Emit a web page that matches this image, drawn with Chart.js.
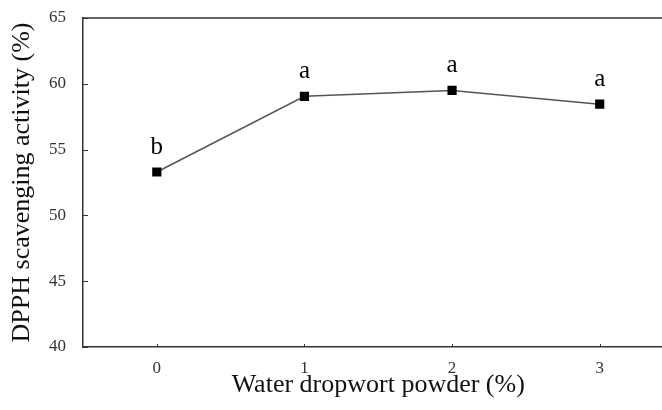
<!DOCTYPE html>
<html>
<head>
<meta charset="utf-8">
<script src="https://cdn.jsdelivr.net/npm/chart.js@4"></script>
<style>
html,body{margin:0;padding:0;background:#fff;overflow:hidden;width:662px;height:410px;}
#wrap{width:680px;height:410px;}
</style>
</head>
<body>
<div id="wrap"><canvas id="c" width="680" height="410"></canvas></div>
<script>
const categories = ['0', '1', '2', '3'];
const dpphValues = [53.3, 59.05, 59.5, 58.45];
const letters = ['b', 'a', 'a', 'a'];
const yTicks = [40, 45, 50, 55, 60, 65];

const serif = "'Liberation Serif', 'Times New Roman', serif";

const decor = {
  id: 'decor',
  afterDraw(chart) {
    const ctx = chart.ctx;
    const a = chart.chartArea;
    const xs = chart.scales.x, ys = chart.scales.y;
    ctx.save();
    ctx.strokeStyle = '#333';
    ctx.lineWidth = 1.5;
    ctx.beginPath();
    ctx.moveTo(a.left, a.top);
    ctx.lineTo(a.right, a.top);
    ctx.stroke();
    ctx.lineWidth = 1;
    ctx.beginPath();
    yTicks.forEach(v => {
      const y = Math.round(ys.getPixelForValue(v)) + 0.5;
      ctx.moveTo(a.left, y);
      ctx.lineTo(a.left + 5, y);
    });
    categories.forEach((c, i) => {
      const x = Math.round(xs.getPixelForValue(i)) + 0.5;
      ctx.moveTo(x, a.bottom);
      ctx.lineTo(x, a.bottom - 3);
    });
    ctx.stroke();
    const meta = chart.getDatasetMeta(0);
    ctx.fillStyle = '#000';
    ctx.font = "25px " + serif;
    ctx.textAlign = 'center';
    ctx.textBaseline = 'alphabetic';
    meta.data.forEach((pt, i) => {
      ctx.fillText(letters[i], pt.x, pt.y - 18);
    });
    ctx.restore();
  }
};

new Chart(document.getElementById('c'), {
  type: 'line',
  data: {
    labels: categories,
    datasets: [{
      data: dpphValues,
      borderColor: '#555',
      borderWidth: 1.5,
      pointStyle: 'rect',
      pointRadius: 6.5,
      pointBackgroundColor: '#000',
      pointBorderColor: '#000',
      pointBorderWidth: 0,
      tension: 0
    }]
  },
  options: {
    responsive: false,
    animation: false,
    events: [],
    layout: { padding: { top: 18, right: 6, left: 0, bottom: 0 } },
    plugins: { legend: { display: false }, tooltip: { enabled: false } },
    scales: {
      x: {
        type: 'category',
        offset: true,
        grid: { display: false, drawTicks: false },
        border: { display: true, color: '#333', width: 1.5 },
        ticks: { color: '#333', font: { family: serif, size: 17 }, padding: 11 },
        title: { display: true, text: 'Water dropwort powder (%)', color: '#111', font: { family: serif, size: 26 }, padding: { top: 0, bottom: 9 } },
        afterFit(s) { s.height = 63; s.paddingLeft = 0; s.paddingRight = 0; }
      },
      y: {
        min: 40, max: 65,
        afterBuildTicks(s) { s.ticks = yTicks.map(v => ({ value: v })); },
        grid: { display: false, drawTicks: false },
        border: { display: true, color: '#333', width: 1.5 },
        ticks: { color: '#333', font: { family: serif, size: 17 }, padding: 17 },
        title: { display: true, text: 'DPPH scavenging activity (%)', color: '#111', font: { family: serif, size: 26 }, padding: { top: 7, bottom: 0 } },
        afterFit(s) { s.width = 83; s.paddingTop = 0; s.paddingBottom = 0; }
      }
    }
  },
  plugins: [decor]
});
</script>
</body>
</html>
